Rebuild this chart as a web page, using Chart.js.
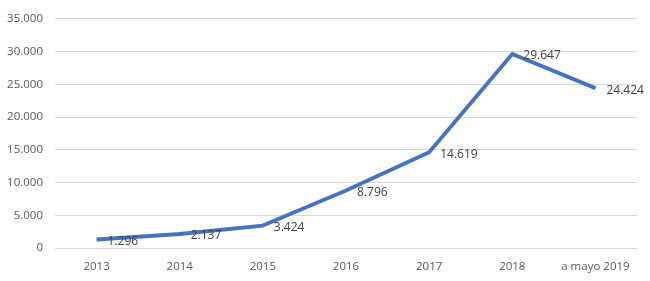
<!DOCTYPE html>
<html><head><meta charset="utf-8">
<script src="https://cdn.jsdelivr.net/npm/chart.js@4"></script>
<style>html,body{margin:0;padding:0;background:#fff}#wrap{width:650px;height:281px}</style>
</head><body><div id="wrap"><canvas id="c"></canvas></div>
<script>
const categories = ['2013','2014','2015','2016','2017','2018','a mayo 2019'];
const values = [1296, 2137, 3424, 8796, 14619, 29647, 24424];
const yTicks = [0, 5000, 10000, 15000, 20000, 25000, 30000, 35000];

const fmt = v => v.toLocaleString('de-DE');
const FONT = '"Open Sans", sans-serif';

const labelPlugin = {
  id: 'pointLabels',
  afterDatasetsDraw(chart) {
    const ctx = chart.ctx;
    const meta = chart.getDatasetMeta(0);
    ctx.save();
    ctx.font = '12px ' + FONT;
    ctx.fillStyle = '#404040';
    ctx.textAlign = 'left';
    ctx.textBaseline = 'middle';
    meta.data.forEach((pt, i) => {
      ctx.fillText(fmt(values[i]), pt.x + 11, pt.y + 2);
    });
    ctx.restore();
  }
};

new Chart(document.getElementById('c'), {
  type: 'line',
  data: {
    labels: categories,
    datasets: [{
      data: values,
      borderColor: '#4472C4',
      borderWidth: 3.8,
      pointRadius: 0,
      tension: 0,
      fill: false,
      borderCapStyle: 'butt',
      borderJoinStyle: 'round'
    }]
  },
  options: {
    responsive: true,
    maintainAspectRatio: false,
    animation: false,
    layout: { padding: { top: 16, right: 13, left: 0, bottom: 0 } },
    plugins: { legend: { display: false }, tooltip: { enabled: false } },
    scales: {
      x: {
        offset: true,
        grid: { display: false, drawTicks: false },
        border: { display: false },
        ticks: { color: '#595959', font: { family: FONT, size: 11.5 }, padding: 12, maxRotation: 0 },
        afterFit(s) { s.height = 33; }
      },
      y: {
        min: 0, max: 35000,
        afterBuildTicks(s) { s.ticks = yTicks.map(v => ({ value: v })); },
        grid: { color: '#D9D9D9', lineWidth: 1, drawTicks: false },
        border: { display: false },
        ticks: { color: '#595959', font: { family: FONT, size: 11.5 }, padding: 12, callback: v => fmt(v) },
        afterFit(s) { s.width = 55; }
      }
    }
  },
  plugins: [labelPlugin]
});
</script>
</body></html>
